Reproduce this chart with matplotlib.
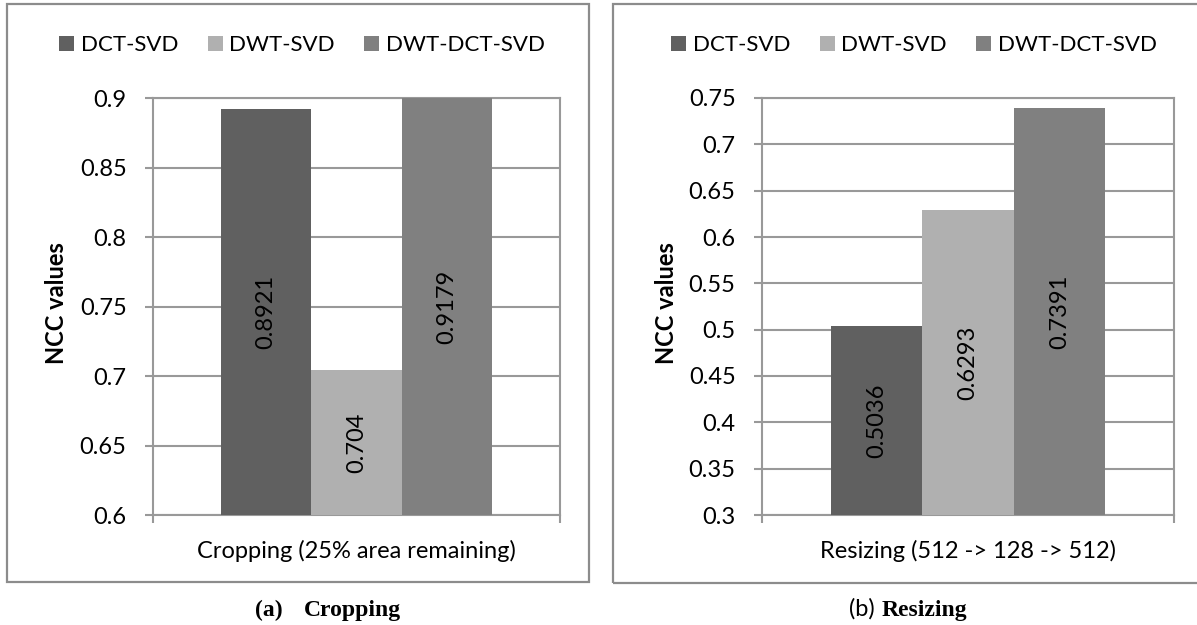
import matplotlib
matplotlib.use("Agg")
import matplotlib.pyplot as plt
from matplotlib.patches import Rectangle

# ---- data ----
series = ["DCT-SVD", "DWT-SVD", "DWT-DCT-SVD"]
crop_values = [0.8921, 0.704, 0.9179]
resize_values = [0.5036, 0.6293, 0.7391]
crop_category = "Cropping (25% area remaining)"
resize_category = "Resizing (512 -> 128 -> 512)"
crop_ticks = [0.6, 0.65, 0.7, 0.75, 0.8, 0.85, 0.9]
resize_ticks = [0.3, 0.35, 0.4, 0.45, 0.5, 0.55, 0.6, 0.65, 0.7, 0.75]
crop_labels = ["0.6", "0.65", "0.7", "0.75", "0.8", "0.85", "0.9"]
resize_labels = ["0.3", "0.35", "0.4", "0.45", "0.5", "0.55", "0.6", "0.65", "0.7", "0.75"]
ylabel = "NCC values"

colors = ["#606060", "#b0b0b0", "#808080"]
GRID = "#999999"
FONT = "Lato"
FS = 17

W, H = 1197, 625
fig = plt.figure(figsize=(W / 100, H / 100), dpi=100)


def px_axes(x0, y0, x1, y1):
    return fig.add_axes([x0 / W, 1 - y1 / H, (x1 - x0) / W, (y1 - y0) / H])


def panel(ax, values, ticks, labels, category, ylab_x, legend_cx):
    w = 1 / 4.5
    offsets = [-w, 0, w]
    bars = []
    for off, v, c, name in zip(offsets, values, colors, series):
        b = ax.bar(off, v - ticks[0], bottom=ticks[0], width=w, color=c,
                   label=name, zorder=3)
        bars.append(b)
        top = min(v, ticks[-1])
        ax.text(off, (ticks[0] + top) / 2, f"{v:g}", rotation=90, ha="center",
                va="center", fontsize=FS, family=FONT, color="black", zorder=4)
    ax.set_xlim(-0.5, 0.5)
    ax.set_ylim(ticks[0], ticks[-1])
    ax.set_yticks(ticks)
    ax.set_yticklabels(labels, family=FONT, fontsize=FS)
    ax.yaxis.grid(True, color=GRID, linewidth=1.5, zorder=0)
    ax.set_axisbelow(True)
    for s in ax.spines.values():
        s.set_color(GRID)
        s.set_linewidth(1.5)
    ax.tick_params(axis="y", length=6, width=1.5, color=GRID, pad=13)
    ax.set_xticks([0])
    ax.set_xticklabels([category], family=FONT, fontsize=FS)
    ax.tick_params(axis="x", which="major", length=0, pad=18)
    ax.set_xticks([-0.5, 0.5], minor=True)
    ax.tick_params(axis="x", which="minor", length=6, width=1.5, color=GRID)
    fig.text(ylab_x / W, 1 - 303 / H, ylabel, rotation=90, ha="center",
             va="center", fontsize=FS, family=FONT, fontweight="bold")
    fig.legend(handles=bars, labels=series, loc="center",
               bbox_to_anchor=(legend_cx / W, 1 - 45 / H), ncol=3, frameon=False,
               prop={"family": FONT, "size": 16}, handlelength=0.68,
               handleheight=0.68, handletextpad=0.3, columnspacing=1.3,
               borderpad=0, borderaxespad=0)


# panel borders
fig.add_artist(Rectangle((7 / W, 1 - 582 / H), (589 - 7) / W, (582 - 4) / H,
                         transform=fig.transFigure, fill=False,
                         edgecolor="#8c8c8c", linewidth=1.6))
fig.add_artist(Rectangle((613 / W, 1 - 583 / H), (1205 - 613) / W, (583 - 4) / H,
                         transform=fig.transFigure, fill=False,
                         edgecolor="#8c8c8c", linewidth=1.6, clip_on=False))

ax1 = px_axes(153, 98, 560, 515)
panel(ax1, crop_values, crop_ticks, crop_labels, crop_category, 57, 302)

ax2 = px_axes(762, 98, 1174, 515)
panel(ax2, resize_values, resize_ticks, resize_labels, resize_category, 666, 914)

# captions
fig.text(255 / W, 1 - 616 / H, "(a)", ha="left", va="baseline",
         family="Liberation Serif", fontweight="bold", fontsize=17)
fig.text(304 / W, 1 - 616 / H, "Cropping", ha="left", va="baseline",
         family="Liberation Serif", fontweight="bold", fontsize=17)
fig.text(849 / W, 1 - 616 / H, "(b)", ha="left", va="baseline",
         family=FONT, fontsize=17)
fig.text(882 / W, 1 - 616 / H, "Resizing", ha="left", va="baseline",
         family="Liberation Serif", fontweight="bold", fontsize=17)

fig.savefig("out.png", dpi=100)
